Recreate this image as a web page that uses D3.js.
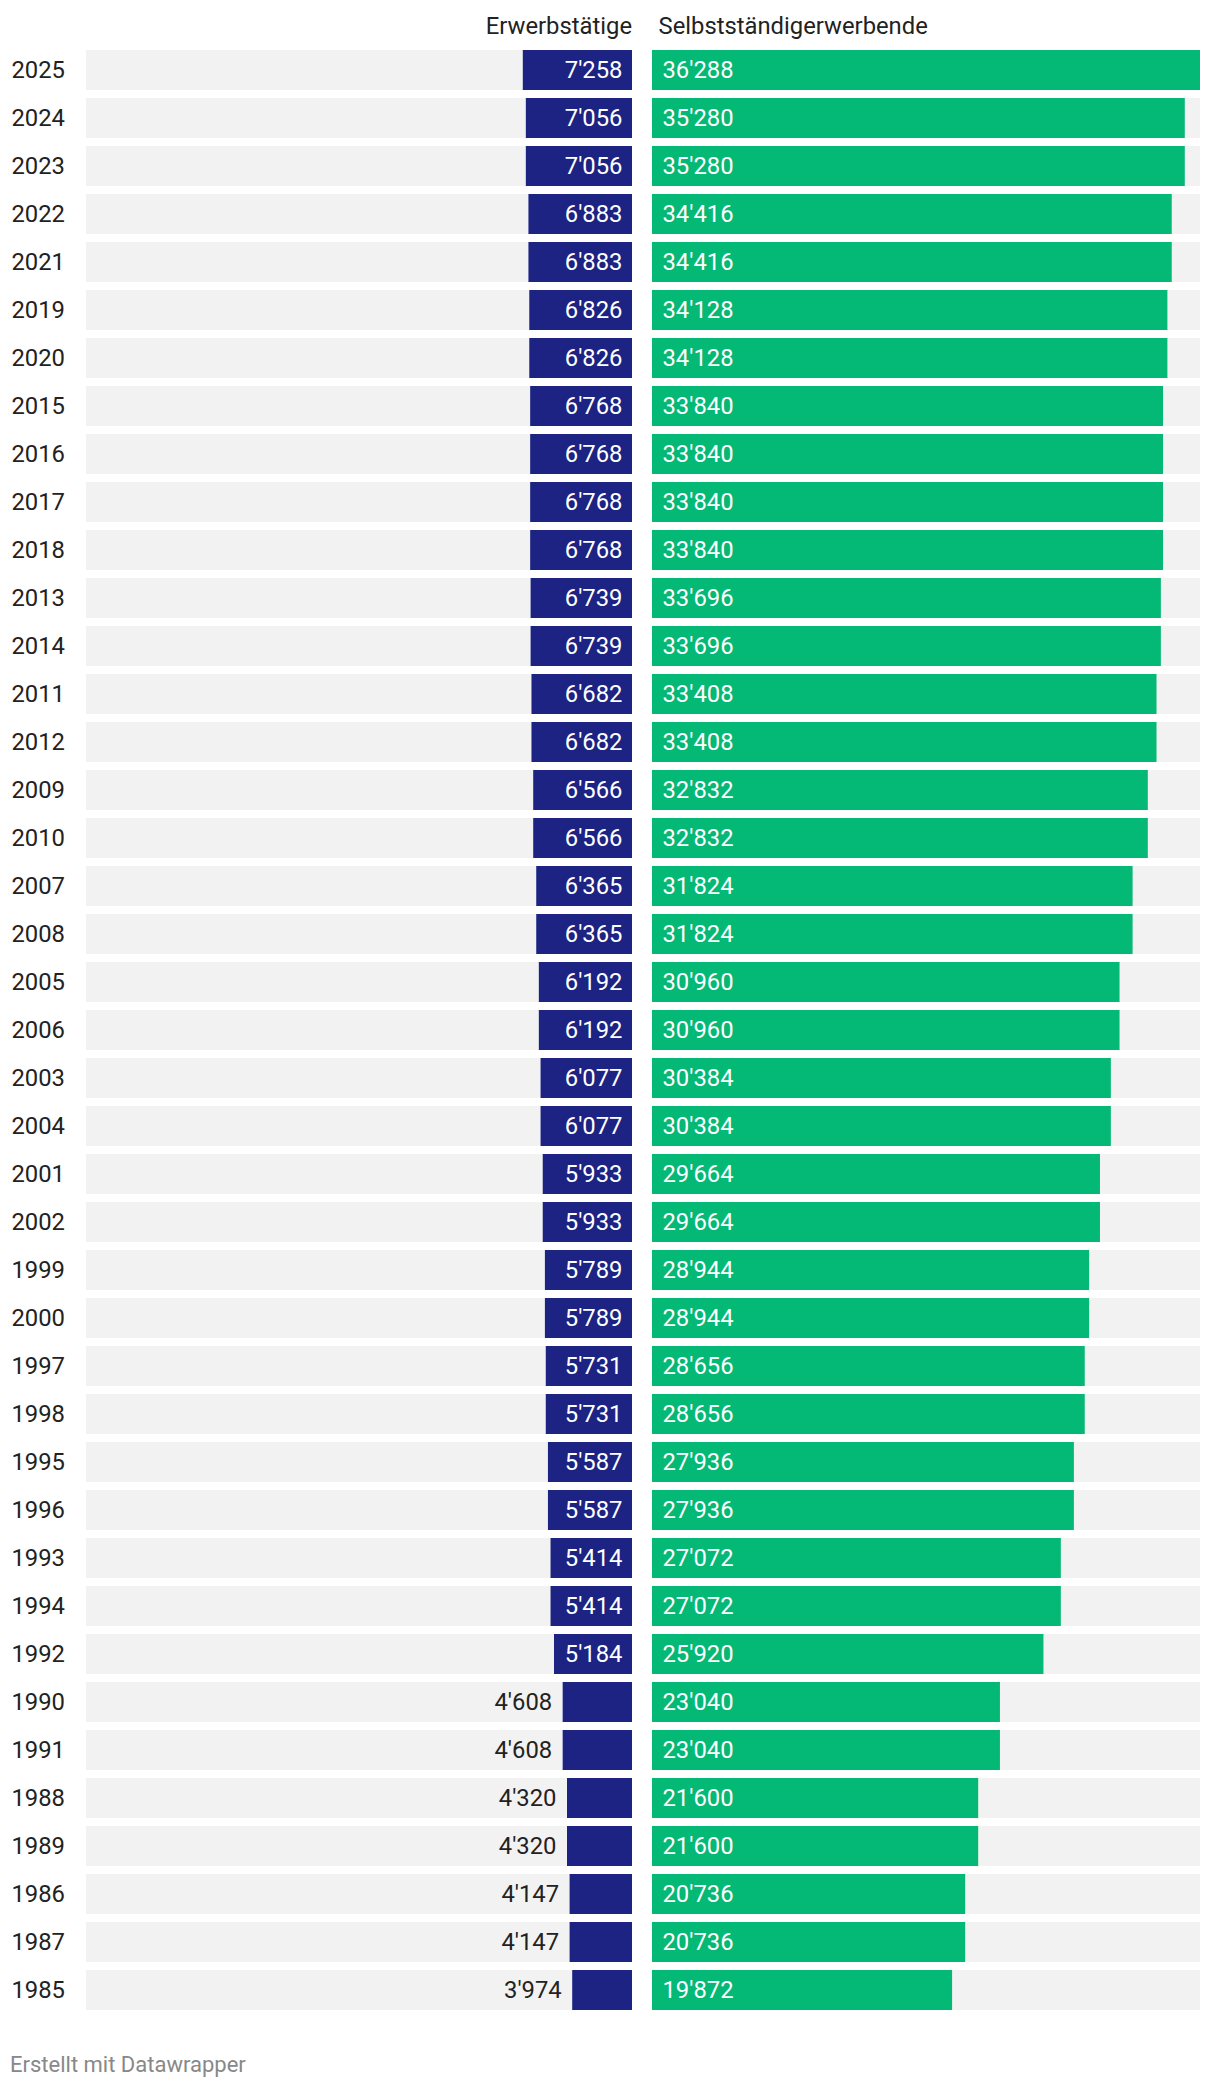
<!DOCTYPE html>
<html><head><meta charset="utf-8">
<script src="https://cdn.jsdelivr.net/npm/d3@7"></script>
<style>
html,body{margin:0;padding:0;background:#fff;}
svg{display:block;font-family:Roboto,"Noto Sans",sans-serif;}
</style></head>
<body>
<svg id="chart" width="1220" height="2088"></svg>
<script>
const years = ["2025","2024","2023","2022","2021","2019","2020","2015","2016","2017","2018","2013","2014","2011","2012","2009","2010","2007","2008","2005","2006","2003","2004","2001","2002","1999","2000","1997","1998","1995","1996","1993","1994","1992","1990","1991","1988","1989","1986","1987","1985"];
const erwerbstaetige = [7258,7056,7056,6883,6883,6826,6826,6768,6768,6768,6768,6739,6739,6682,6682,6566,6566,6365,6365,6192,6192,6077,6077,5933,5933,5789,5789,5731,5731,5587,5587,5414,5414,5184,4608,4608,4320,4320,4147,4147,3974];
const selbststaendige = [36288,35280,35280,34416,34416,34128,34128,33840,33840,33840,33840,33696,33696,33408,33408,32832,32832,31824,31824,30960,30960,30384,30384,29664,29664,28944,28944,28656,28656,27936,27936,27072,27072,25920,23040,23040,21600,21600,20736,20736,19872];
const columnTitles = ["Erwerbstätige","Selbstständigerwerbende"];
const footer = "Erstellt mit Datawrapper";

const fmt = d3.formatLocale({decimal:".", thousands:"'", grouping:[3], currency:["",""]}).format(",d");
const rows = years.map((y,i)=>({year:y, a:erwerbstaetige[i], b:selbststaendige[i]}));
const svg = d3.select("#chart");
const FS = 23.8;           // label font size
const CAP = 8.3;           // half cap height offset

const y = d3.scaleBand().domain(years).range([50, 2010]).paddingInner(1/6).paddingOuter(0);
const maxV = d3.max([...erwerbstaetige, ...selbststaendige]);
const xL = d3.scaleLinear().domain([0, maxV]).range([632, 86]);
const xR = d3.scaleLinear().domain([0, maxV]).range([652, 1200]);

const BLUE = "#1c2383", GREEN = "#04b875", BG = "#f2f2f2", TXT = "#222";

function txt(g, x, yy, s, opts){
  return g.append("text")
    .attr("x", x).attr("y", yy)
    .attr("text-anchor", opts.anchor||"start")
    .attr("font-size", opts.size||FS)
    .attr("fill", opts.fill||TXT)
    .text(s);
}

// headers
txt(svg, 632, 34.3, columnTitles[0], {anchor:"end"});
txt(svg, 658.5, 34.3, columnTitles[1], {anchor:"start"});

const g = svg.append("g");
rows.forEach(r=>{
  const y0 = y(r.year), h = y.bandwidth(), cy = y0 + h/2;
  txt(g, 11.5, cy+CAP, r.year, {});
  g.append("rect").attr("x", xL(maxV)).attr("y", y0).attr("width", xL(0)-xL(maxV)).attr("height", h).attr("fill", BG);
  g.append("rect").attr("x", xR(0)).attr("y", y0).attr("width", xR(maxV)-xR(0)).attr("height", h).attr("fill", BG);
  g.append("rect").attr("x", xL(r.a)).attr("y", y0).attr("width", xL(0)-xL(r.a)).attr("height", h).attr("fill", BLUE);
  g.append("rect").attr("x", xR(0)).attr("y", y0).attr("width", xR(r.b)-xR(0)).attr("height", h).attr("fill", GREEN);
  const bw = xL(0)-xL(r.a);
  const la = txt(g, xL(0)-9.5, cy+CAP, fmt(r.a), {anchor:"end", fill:"#fff"});
  const w = la.node().getComputedTextLength();
  if (w + 18 > bw) {
    la.attr("x", xL(r.a)-10.5).attr("fill", TXT);
  }
  txt(g, xR(0)+10.5, cy+CAP, fmt(r.b), {anchor:"start", fill:"#fff"});
});

txt(svg, 10, 2072.3, footer, {size:22, fill:"#888"});
</script>
</body></html>
